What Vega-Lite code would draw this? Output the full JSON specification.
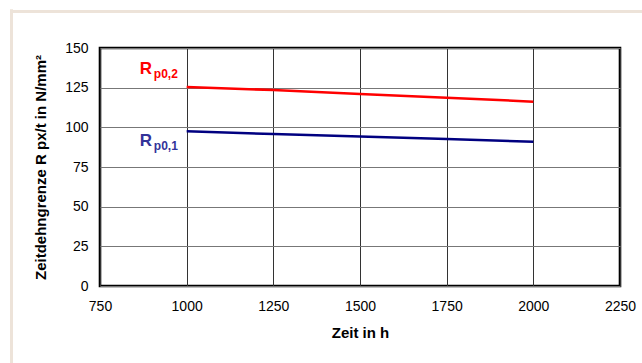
{
  "$schema": "https://vega.github.io/schema/vega-lite/v6.json",
  "width": 520,
  "height": 238,
  "autosize": "none",
  "padding": {"left": 100, "top": 48, "right": 22, "bottom": 77},
  "background": "#ffffff",
  "config": {
    "font": "Liberation Sans",
    "view": {"stroke": "#000000", "strokeWidth": 2.6},
    "axis": {"domain": false, "ticks": false, "labelFont": "Liberation Sans", "titleFont": "Liberation Sans", "labelColor": "#000000", "titleColor": "#000000"}
  },
  "datasets": {
    "curves": [
      {"t": 1000, "v": 125.4, "s": "Rp0,2"},
      {"t": 1250, "v": 123.5, "s": "Rp0,2"},
      {"t": 1500, "v": 121.0, "s": "Rp0,2"},
      {"t": 1750, "v": 118.7, "s": "Rp0,2"},
      {"t": 2000, "v": 116.2, "s": "Rp0,2"},
      {"t": 1000, "v": 97.5, "s": "Rp0,1"},
      {"t": 1250, "v": 95.8, "s": "Rp0,1"},
      {"t": 1500, "v": 94.3, "s": "Rp0,1"},
      {"t": 1750, "v": 92.6, "s": "Rp0,1"},
      {"t": 2000, "v": 90.9, "s": "Rp0,1"}
    ],
    "labels": [
      {"s": "Rp0,2", "main": "R", "sub": "p0,2", "lx": 865, "ly": 133.6},
      {"s": "Rp0,1", "main": "R", "sub": "p0,1", "lx": 865, "ly": 88.2}
    ],
    "frame": [
      {"name": "frame"}
    ]
  },
  "encoding": {
    "x": {
      "type": "quantitative",
      "scale": {"domain": [750, 2250], "nice": false, "zero": false},
      "axis": {
        "values": [750, 1000, 1250, 1500, 1750, 2000, 2250],
        "format": "d",
        "title": "Zeit in h",
        "titleFontSize": 15, "titleFontWeight": "bold", "titlePadding": 12,
        "labelFontSize": 14, "labelPadding": 13, "labelFlush": false, "labelOverlap": false,
        "grid": true, "gridColor": "#333333", "gridWidth": 1, "gridOpacity": 1
      }
    },
    "y": {
      "type": "quantitative",
      "scale": {"domain": [0, 150], "nice": false},
      "axis": {
        "values": [0, 25, 50, 75, 100, 125, 150],
        "format": "d",
        "title": "Zeitdehngrenze R px/t in N/mm²",
        "titleFontSize": 15, "titleFontWeight": "bold", "titlePadding": 16,
        "labelFontSize": 14, "labelPadding": 12, "labelFlush": false, "labelOverlap": false,
        "grid": true, "gridColor": "#777777", "gridWidth": 1, "gridOpacity": 1
      }
    }
  },
  "layer": [
    {
      "data": {"name": "frame"},
      "mark": {"type": "rule", "stroke": "#ede3d9", "strokeWidth": 3},
      "encoding": {
        "x": {"datum": 494.7, "type": "quantitative"},
        "x2": {"datum": 3000},
        "y": {"datum": 173, "type": "quantitative"}
      }
    },
    {
      "data": {"name": "frame"},
      "mark": {"type": "rule", "stroke": "#ede3d9", "strokeWidth": 3},
      "encoding": {
        "x": {"datum": 494.7, "type": "quantitative"},
        "y": {"datum": 174.5, "type": "quantitative"},
        "y2": {"datum": -150}
      }
    },
    {
      "data": {"name": "curves"},
      "mark": {"type": "line", "strokeWidth": 2.5},
      "encoding": {
        "x": {"field": "t"},
        "y": {"field": "v"},
        "color": {
          "field": "s", "type": "nominal",
          "scale": {"domain": ["Rp0,2", "Rp0,1"], "range": ["#ff0000", "#000080"]},
          "legend": null
        }
      }
    },
    {
      "data": {"name": "labels"},
      "mark": {"type": "text", "align": "left", "baseline": "alphabetic", "fontSize": 17, "fontWeight": "bold"},
      "encoding": {
        "x": {"field": "lx"},
        "y": {"field": "ly"},
        "text": {"field": "main"},
        "color": {
          "field": "s", "type": "nominal",
          "scale": {"domain": ["Rp0,2", "Rp0,1"], "range": ["#ff0000", "#333399"]},
          "legend": null
        }
      }
    },
    {
      "data": {"name": "labels"},
      "mark": {"type": "text", "align": "left", "baseline": "alphabetic", "fontSize": 12, "fontWeight": "bold", "dx": 14, "dy": 4},
      "encoding": {
        "x": {"field": "lx"},
        "y": {"field": "ly"},
        "text": {"field": "sub"},
        "color": {
          "field": "s", "type": "nominal",
          "scale": {"domain": ["Rp0,2", "Rp0,1"], "range": ["#ff0000", "#333399"]},
          "legend": null
        }
      }
    }
  ],
  "resolve": {"scale": {"color": "independent"}}
}
